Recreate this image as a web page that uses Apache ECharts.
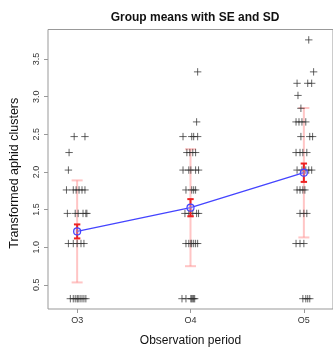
<!DOCTYPE html>
<html>
<head>
<meta charset="utf-8">
<script src="https://cdn.jsdelivr.net/npm/echarts@6/dist/echarts.min.js"></script>
<style>
  html, body { margin: 0; padding: 0; background: #fff; }
  #chart { width: 333px; height: 352px; }
</style>
</head>
<body>
<div id="chart"></div>
<script>
  // observation periods (x = 1, 2, 3)
  var periods = ['O3', 'O4', 'O5'];
  var yTicks = [0.5, 1.0, 1.5, 2.0, 2.5, 3.0, 3.5];

  // jittered points: [offset from period centre, transformed value]
  var pointsO3 = [
    [-0.026, 2.47], [0.069, 2.47], [-0.071, 2.258], [-0.077, 2.025],
    [-0.094, 1.761], [-0.034, 1.761], [-0.009, 1.761], [0.017, 1.761], [0.043, 1.761], [0.069, 1.761],
    [-0.086, 1.449], [-0.017, 1.449], [0.009, 1.449], [0.052, 1.449], [0.077, 1.449], [0.086, 1.449],
    [-0.077, 1.049], [-0.034, 1.049], [0, 1.049], [0.034, 1.049], [0.06, 1.049],
    [-0.06, 0.316], [-0.034, 0.316], [-0.017, 0.316], [0, 0.316], [0.009, 0.316],
    [0.026, 0.316], [0.043, 0.316], [0.06, 0.316], [0.077, 0.316]
  ];
  var pointsO4 = [
    [0.063, 3.33], [0.054, 2.665],
    [-0.066, 2.47], [0.011, 2.47], [0.028, 2.47], [0.063, 2.47],
    [-0.032, 2.258], [-0.006, 2.258], [0.02, 2.258], [0.045, 2.258],
    [-0.066, 2.025], [-0.015, 2.025], [0.003, 2.025], [0.045, 2.025], [0.071, 2.025],
    [-0.04, 1.761], [0.011, 1.761], [0.028, 1.761], [0.045, 1.761],
    [-0.049, 1.449], [-0.015, 1.449], [0.02, 1.449], [0.054, 1.449], [0.071, 1.449],
    [-0.04, 1.049], [-0.015, 1.049], [0.003, 1.049], [0.011, 1.049], [0.028, 1.049], [0.045, 1.049], [0.063, 1.049],
    [-0.075, 0.316], [-0.04, 0.316], [0.003, 0.316], [0.011, 0.316], [0.02, 0.316], [0.028, 0.316], [0.037, 0.316]
  ];
  var pointsO5 = [
    [0.043, 3.755], [0.086, 3.33],
    [-0.06, 3.178], [0.034, 3.178], [0.069, 3.178],
    [-0.052, 3.017], [-0.026, 2.846],
    [-0.069, 2.665], [-0.043, 2.665], [-0.017, 2.665], [0.017, 2.665],
    [-0.026, 2.47], [0.052, 2.47], [0.077, 2.47],
    [-0.069, 2.258], [-0.034, 2.258], [-0.009, 2.258], [0.026, 2.258],
    [-0.06, 2.025], [-0.017, 2.025], [0.017, 2.025], [0.043, 2.025], [0.069, 2.025],
    [-0.06, 1.761], [-0.034, 1.761], [-0.009, 1.761], [0.009, 1.761],
    [-0.034, 1.449], [0, 1.449], [0.026, 1.449],
    [-0.069, 1.049], [-0.034, 1.049], [0, 1.049],
    [-0.009, 0.316], [0.017, 0.316], [0.034, 0.316], [0.052, 0.316]
  ];

  // group summaries
  var means = [1.21, 1.525, 1.99];
  var se = [0.093, 0.114, 0.122];
  var sd = [0.678, 0.777, 0.86];

  var points = [];
  [pointsO3, pointsO4, pointsO5].forEach(function (grp, i) {
    grp.forEach(function (p) {
      points.push([i + 1 + p[0], p[1]]);
    });
  });

  var meanData = means.map(function (m, i) { return [i + 1, m]; });
  var seData = means.map(function (m, i) { return [i + 1, m - se[i], m + se[i]]; });
  var sdData = means.map(function (m, i) { return [i + 1, m - sd[i], m + sd[i]]; });

  function errorBar(color, width, capHalf) {
    return function (params, api) {
      var lo = api.coord([api.value(0), api.value(1)]);
      var hi = api.coord([api.value(0), api.value(2)]);
      var style = { stroke: color, lineWidth: width };
      return {
        type: 'group',
        children: [
          { type: 'line', shape: { x1: lo[0], y1: lo[1], x2: hi[0], y2: hi[1] }, style: style },
          { type: 'line', shape: { x1: lo[0] - capHalf, y1: lo[1], x2: lo[0] + capHalf, y2: lo[1] }, style: style },
          { type: 'line', shape: { x1: hi[0] - capHalf, y1: hi[1], x2: hi[0] + capHalf, y2: hi[1] }, style: style }
        ]
      };
    };
  }

  function plusMark(params, api) {
    var c = api.coord([api.value(0), api.value(1)]);
    var h = 3.7;
    var style = { stroke: 'rgba(50,50,50,0.75)', lineWidth: 1 };
    return {
      type: 'group',
      children: [
        { type: 'line', shape: { x1: c[0] - h, y1: c[1], x2: c[0] + h, y2: c[1] }, style: style },
        { type: 'line', shape: { x1: c[0], y1: c[1] - h, x2: c[0], y2: c[1] + h }, style: style }
      ]
    };
  }

  var chart = echarts.init(document.getElementById('chart'));
  var option = {
    animation: false,
    title: {
      text: 'Group means with SE and SD',
      left: 190, top: 7, textAlign: 'center',
      textStyle: { fontFamily: 'Liberation Sans', fontWeight: 'bold', fontSize: 12, color: '#111' }
    },
    grid: {
      left: 44, top: 29.5, bottom: 33.7, right: -4,
      show: true, borderColor: '#999', borderWidth: 1, backgroundColor: 'transparent'
    },
    xAxis: {
      type: 'value', min: 0.743, max: 3.257,
      name: 'Observation period', nameLocation: 'middle', nameGap: 26,
      nameTextStyle: { fontFamily: 'Liberation Sans', fontSize: 12, color: '#111' },
      axisLine: { show: false },
      axisTick: { show: true, length: 4, customValues: [1, 2, 3], lineStyle: { color: '#999' } },
      axisLabel: {
        customValues: [1, 2, 3], margin: 7,
        fontFamily: 'Liberation Sans', fontSize: 9, color: '#333',
        formatter: function (v) { return periods[Math.round(v) - 1]; }
      },
      splitLine: { show: false }
    },
    yAxis: {
      type: 'value', min: 0.179, max: 3.893,
      name: 'Transformed aphid clusters', nameLocation: 'middle', nameGap: 27,
      nameTextStyle: { fontFamily: 'Liberation Sans', fontSize: 12.5, color: '#111', padding: [0, 0, 0, -8] },
      axisLine: { show: false },
      axisTick: { show: true, length: 4, customValues: yTicks, lineStyle: { color: '#999' } },
      axisLabel: {
        customValues: yTicks, rotate: 90, margin: 7,
        fontFamily: 'Liberation Sans', fontSize: 9, color: '#333',
        formatter: function (v) { return v.toFixed(1); }
      },
      splitLine: { show: false }
    },
    series: [
      {
        type: 'custom', name: 'SD', renderItem: errorBar('rgba(255,140,140,0.5)', 2, 5.5),
        data: sdData, encode: { x: 0, y: [1, 2] }, z: 1
      },
      {
        type: 'custom', name: 'points', renderItem: plusMark,
        data: points, encode: { x: 0, y: 1 }, z: 2
      },
      {
        type: 'custom', name: 'SE', renderItem: errorBar('#ee2222', 2, 3.2),
        data: seData, encode: { x: 0, y: [1, 2] }, z: 3
      },
      {
        type: 'line', name: 'mean', data: meanData, z: 4,
        symbol: 'circle', symbolSize: 7, showSymbol: true,
        lineStyle: { color: '#4444ff', width: 1.3 },
        itemStyle: { color: 'rgba(190,190,255,0.35)', borderColor: '#4444ff', borderWidth: 1.2 }
      }
    ]
  };
  chart.setOption(option);
</script>
</body>
</html>
